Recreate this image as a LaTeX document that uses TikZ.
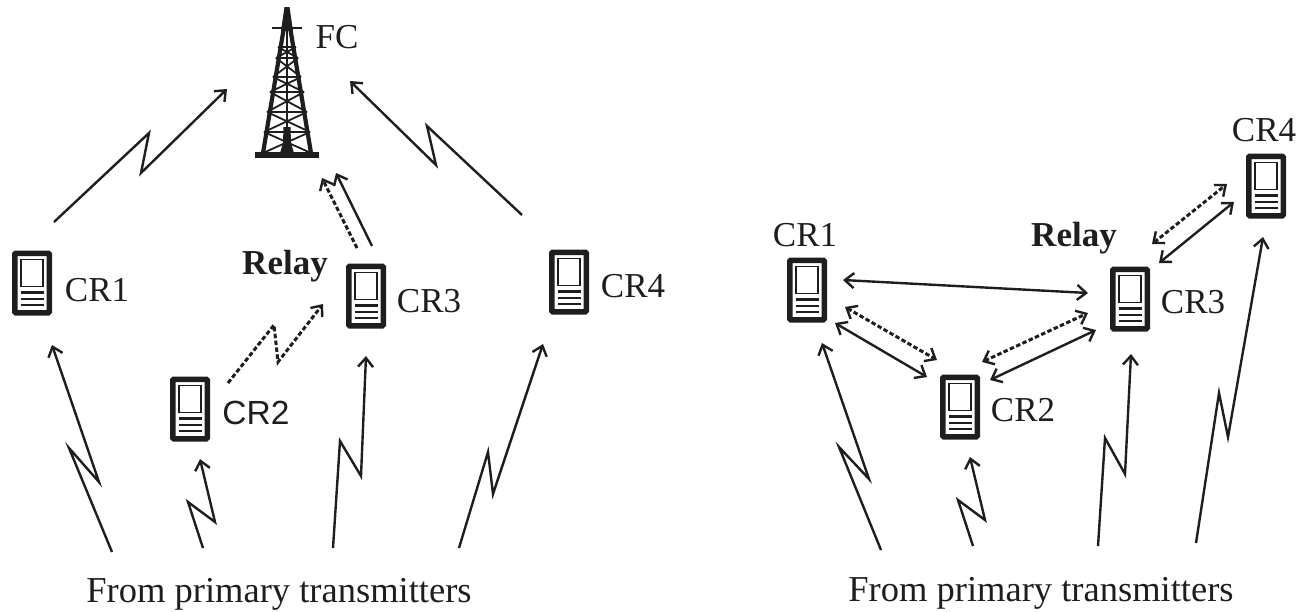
\documentclass[tikz,border=0pt]{standalone}
\usepackage{fontspec}
\setmainfont{Liberation Serif}
\setsansfont{Liberation Sans}
\usetikzlibrary{arrows.meta,calc}
\definecolor{ink}{HTML}{1E1E1E}
\newcommand{\off}[3]{([shift={(#2,#3)}]#1.center)}
\tikzset{
  device/.style={draw=ink,line width=5.5pt,rounded corners=1pt,fill=white,minimum width=34.5pt,minimum height=59.5pt,inner sep=0pt,outer sep=0pt},
  link/.style={draw=ink,line width=2.4pt,line join=miter,-{Straight Barb[length=9pt,width=15pt,line width=2.4pt]}},
  dlink/.style={draw=ink,line width=2.4pt,{Straight Barb[length=9pt,width=15pt,line width=2.4pt]}-{Straight Barb[length=9pt,width=15pt,line width=2.4pt]}},
  dash2/.style={dash pattern=on 4.5pt off 2.4pt,line width=3pt},
  lab/.style={font=\fontsize{35}{35}\selectfont,text=ink,inner sep=0pt},
  rel/.style={font=\fontsize{35}{35}\selectfont\bfseries,text=ink,inner sep=0pt},
  caption/.style={font=\fontsize{36.5}{36.5}\selectfont,text=ink,inner sep=0pt,anchor=base},
  tw/.style={draw=ink,line width=2.8pt},
}
\newcommand{\devicedetail}[1]{%
  \draw[ink,line width=1.9pt] \off{#1}{-11}{-23.5} rectangle \off{#1}{11}{3.5};
  \foreach \yy in {9.5,16,22}{\draw[ink,line width=2.3pt] \off{#1}{-11.5}{\yy} -- \off{#1}{11.5}{\yy};}
}
\begin{document}
\begin{tikzpicture}[x=1pt,y=-1pt]
\useasboundingbox (0,0) rectangle (1308,611);
% devices
\foreach \n/\x/\y in {la/32/283,lb/190/409,lc/366/296,ld/569/282,ra/807/290,rb/960/407,rc/1130/299,rd/1266/186}{
  \node[device] (\n) at (\x,\y) {};
  \devicedetail{\n}
}
% tower
\node[minimum width=64pt,minimum height=148pt,inner sep=0pt] (fc) at (287,81) {};
\fill[ink] \off{fc}{-2.5}{-74} -- \off{fc}{2.5}{-74} -- \off{fc}{6}{-50} -- \off{fc}{-6}{-50} -- cycle;
\draw[ink,line width=4.2pt] \off{fc}{0}{-72} -- \off{fc}{-24}{72};
\draw[ink,line width=4.2pt] \off{fc}{0}{-72} -- \off{fc}{24}{72};
\draw[ink,line width=2.8pt] \off{fc}{-15}{-53} -- \off{fc}{15}{-53};
\draw[tw] \off{fc}{0}{-53} -- \off{fc}{0}{72};
\foreach \yy/\w in {-34/9,-23/11,-4/14,11/17,31/20,51/23}{\draw[tw] \off{fc}{-\w}{\yy} -- \off{fc}{\w}{\yy};}
\foreach \ya/\wa/\yb/\wb in {-34/9/-23/11,-23/11/-4/14,-4/14/11/17,11/17/31/20,31/20/51/23,51/23/72/24}{
  \draw[ink,line width=1.8pt] \off{fc}{-\wa}{\ya} -- \off{fc}{\wb}{\yb};
  \draw[ink,line width=1.8pt] \off{fc}{\wa}{\ya} -- \off{fc}{-\wb}{\yb};
}
\fill[ink] \off{fc}{-7}{72} -- \off{fc}{-4}{62} -- \off{fc}{-3.5}{46} -- \off{fc}{3.5}{46} -- \off{fc}{4}{62} -- \off{fc}{7}{72} -- cycle;
\fill[ink] \off{fc}{-32}{71} rectangle \off{fc}{32}{77};
% labels
\node[lab] (tfc) at (337,37) {FC};
\node[lab] (t1) at (97,290) {CR1};
\node[font=\sffamily\fontsize{33.5}{33.5}\selectfont,text=ink,inner sep=0pt] (t2) at (256,413) {CR2};
\node[lab] (t3) at (429,301) {CR3};
\node[lab] (t4) at (633,286) {CR4};
\node[rel] (t5) at (285,266) {Relay};
\node[lab] (t6) at (805,235) {CR1};
\node[lab] (t7) at (1023,410) {CR2};
\node[lab] (t8) at (1193,302) {CR3};
\node[lab] (t9) at (1264,130) {CR4};
\node[rel] (t10) at (1074,238) {Relay};
\node[caption] (c1) at (279,602) {From primary transmitters};
\node[caption] (c2) at (1041,601) {From primary transmitters};
% free ends
\foreach \n/\x/\y in {p1/112/552,p2/203/548,p3/333/548,p4/459/548,q1/881/550,q2/973/546,q3/1098/546,q4/1196/543}{\coordinate (\n) at (\x,\y);}
% left network
\draw[link] \off{la}{22}{-61} -- (149,133) -- (141,173) -- \off{fc}{-60}{8};
\draw[link] \off{ld}{-47}{-67} -- (427,126) -- (436,165) -- \off{fc}{63}{0};
\draw[link,dash2] \off{lc}{-9}{-48} -- \off{fc}{35}{97};
\draw[link] \off{lc}{6}{-50} -- \off{fc}{49}{92};
\draw[link,dash2] \off{lb}{38}{-26} -- (274,325) -- (278,362) -- \off{lc}{-43}{8};
\draw[link] (p1) -- (69,448) -- (99,482) -- \off{la}{20}{62};
\draw[link] (p2) -- (188,502) -- (215,522) -- \off{lb}{10}{50};
\draw[link] (p3) -- (340,441) -- (361,476) -- \off{lc}{0}{60};
\draw[link] (p4) -- (488,452) -- (493,494) -- \off{ld}{-26}{62};
% right network
\draw[link] (q1) -- (839,447) -- (869,479) -- \off{ra}{15}{53};
\draw[link] (q2) -- (958,500) -- (985,520) -- \off{rb}{10}{50};
\draw[link] (q3) -- (1105,438) -- (1125,474) -- \off{rc}{1}{55};
\draw[link] (q4) -- (1219,393) -- (1228,437) -- \off{rd}{-3}{51};
\draw[dlink] \off{ra}{36}{-10} -- \off{rc}{-42}{-6};
\draw[dlink,dash2] \off{ra}{38}{17} -- \off{rb}{-23}{-47};
\draw[dlink] \off{ra}{28}{33} -- \off{rb}{-33}{-30};
\draw[dlink,dash2] \off{rb}{22}{-45} -- \off{rc}{-42}{14};
\draw[dlink] \off{rb}{30}{-27} -- \off{rc}{-34}{31};
\draw[dlink,dash2] \off{rc}{22}{-55} -- \off{rd}{-39}{-2};
\draw[dlink] \off{rc}{29}{-36} -- \off{rd}{-32}{16};
\end{tikzpicture}
\end{document}
